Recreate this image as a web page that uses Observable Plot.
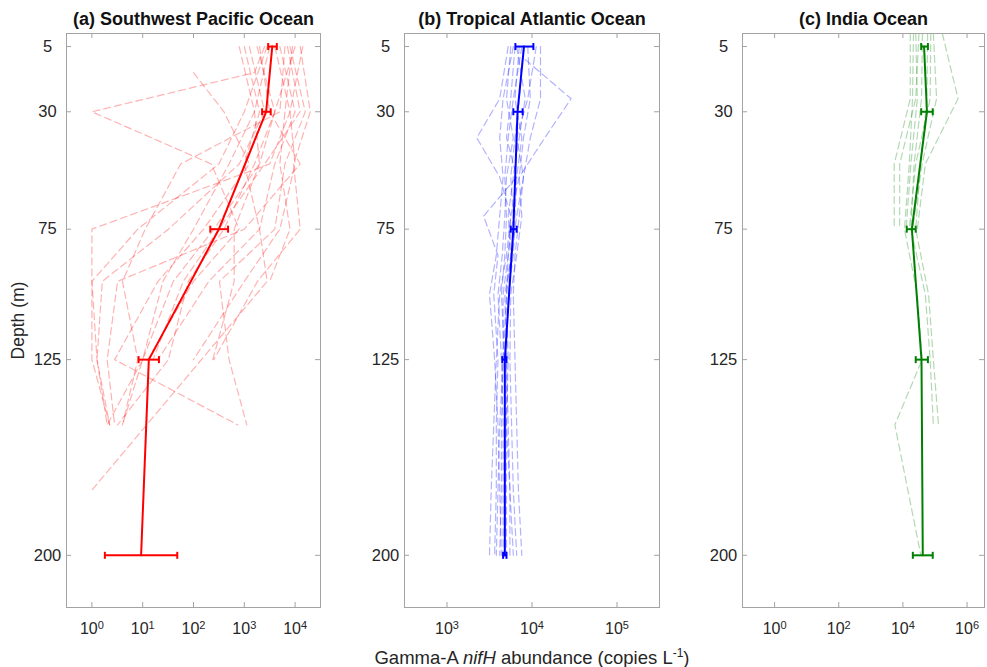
<!DOCTYPE html>
<html><head><meta charset="utf-8">
<script src="https://cdn.jsdelivr.net/npm/d3@7"></script>
<script src="https://cdn.jsdelivr.net/npm/@observablehq/plot@0.6"></script>
<style>
body{margin:0;background:#fff;font-family:"Liberation Sans",Arial,Helvetica,sans-serif;}
#wrap{position:relative;width:987px;height:667px;overflow:hidden;background:#fff;}
.panel{position:absolute;top:0;}
#xlabel{position:absolute;left:232px;width:600px;top:643px;text-align:center;font-size:18.5px;line-height:20px;color:#262626;}
#xlabel sup{font-size:12px;}
</style></head>
<body><div id="wrap"></div>
<script>
// ---------- data ----------
const depthTicks = [5, 30, 75, 125, 200];
const meanDepths = [5, 30, 75, 125, 200];

const pacificTitle = "(a) Southwest Pacific Ocean";
const atlanticTitle = "(b) Tropical Atlantic Ocean";
const indianTitle = "(c) India Ocean";

const pacificXTicks = [1, 10, 100, 1000, 10000];
const atlanticXTicks = [1000, 10000, 100000];
const indianXTicks = [1, 100, 10000, 1000000];

const pacificMean = [3550, 2690, 316, 13.2, 9.3];
const pacificLow  = [2950, 2240, 214, 8.3, 1.8];
const pacificHigh = [4370, 3310, 479, 20.9, 47.9];

const atlanticMean = [8050, 6760, 6030, 4790, 4790];
const atlanticLow  = [6380, 6030, 5620, 4470, 4570];
const atlanticHigh = [10380, 7760, 6610, 5010, 5010];

const indianMean = [45700, 56230, 19050, 38020, 41690];
const indianLow  = [37150, 37150, 13180, 25120, 20420];
const indianHigh = [60260, 85110, 25120, 60260, 85110];

// individual station profiles (null = not sampled)
const pacificProfileDepths = [5, 15, 30, 50, 75, 95, 125, 150, 175];
const pacificProfiles = [
  [2512, 1585, 1, 224, 794, 100, 12.6, null, null],
  [794, null, 1585, 1995, 251, 40, 10, 4, null],
  [3981, null, 7943, 3162, 1, 1, 1.26, 2.24, null],
  [12589, null, 19953, 9333, 12589, 1820, 251, null, null],
  [1995, null, 3162, 12589, 1000, 3.2, 2, 2.8, null],
  [6310, null, 5012, 56, 11.2, 4, 8, 4, null],
  [1000, null, 1995, 1000, 1995, 2818, null, null, 1],
  [7943, null, 15849, 6310, 3981, 324, 501, 1122, null],
  [null, 100, 398, 1259, 158, 20, 2.8, 741, null],
  [10000, null, 3981, 1995, 631, 631, 240, null, null],
  [3162, null, 1585, 501, 100, 25, 10, 2, null],
  [5012, null, 10000, 3981, 1995, 200, 20, null, null],
  [14125, null, 7943, 10000, 5012, 1000, 100, null, null],
  [1259, null, 2512, 794, 32, 1.6, 1.26, 2, null],
  [7079, null, 12589, 2512, 316, 63, 16, null, null],
  [2818, null, 1000, 316, 8, 1, 1, 2.24, null],
  [8913, null, 6310, 5012, 7943, 3162, null, null, null],
  [1778, null, 3981, 1585, 398, 79, 32, 3.2, null]
];

const atlanticProfileDepths = [5, 10, 25, 40, 55, 70, 85, 100, 125, 150, 175, 200];
const atlanticProfiles = [
  [5248, null, 4169, 2239, 4169, 5623, 5012, 4169, 3802, 3548, 3311, 3162],
  [null, 8318, 28840, 14125, 7079, 5623, 5248, 5012, 5248, 5012, 5495, 6026],
  [12589, null, 12589, 9550, 7943, 7079, 6310, 6026, 6310, 6607, 6918, 7586],
  [6310, null, 5623, 5012, 6607, 2692, 3981, 3548, 3981, 3802, 3802, 3631],
  [7943, null, 7079, 6310, 5623, 6026, 5248, 4571, 4571, 4365, 4365, 4169],
  [7079, null, 6310, 7586, 6607, 6310, 6026, 5248, 5012, 5012, 5012, 5012],
  [5623, null, 5012, 6026, 5012, 4786, 4467, 3981, 4365, 4571, 4571, 4571],
  [8913, null, 9550, 7943, 7079, 7586, 6607, 5623, 5495, 5754, 6026, 6607],
  [7586, null, 6026, 5248, 4786, 5012, 4786, 4365, 4786, 4786, 4786, 4786],
  [6607, null, 8318, 7079, 6026, 5248, 5623, 5012, 4571, 4169, 3981, 3802],
  [11220, null, 8913, 6607, 7943, 6607, 5754, 4786, 5012, 5248, 5495, 5495],
  [6026, null, 4571, 4169, 4571, 4169, 3802, 3162, 3631, 3981, 4169, 4365]
];

const indianProfileDepths = [0, 25, 50, 75, 100, 125, 150, 200];
const indianProfiles = [
  [16982, 16982, 5370, 5370, null, null, null, null],
  [21380, 19953, 15849, 11220, 28184, 39811, 5623, 36308],
  [40738, 38019, 22387, 17783, 50119, 70795, 89125, null],
  [58884, 56234, 35481, 25119, 63096, 89125, 128825, null],
  [169824, 524807, 50119, 28184, null, null, null, null],
  [74131, 70795, 25119, 15849, null, null, null, null],
  [89125, 112202, 39811, 19953, null, null, null, null],
  [25119, 28184, 17783, 12589, null, null, null, null],
  [31623, 25119, 7943, 7943, null, null, null, null]
];

// ---------- drawing ----------
const H = 667, mT = 33, mB = 60;
const frameColor = "#a3a3a3";
const textColor = "#262626";
const capSymbol = {draw(ctx, size) { const r = Math.sqrt(size / Math.PI); ctx.moveTo(0, -r); ctx.lineTo(0, r); }};

function panel(o) {
  const innerW = o.width - o.mL - o.mR, innerH = H - mT - mB;
  const prof = [];
  o.profiles.forEach((vals, i) => vals.forEach((v, j) => {
    if (v != null) prof.push({id: i, depth: o.profDepths[j], value: v});
  }));
  const means = meanDepths.map((d, i) => ({depth: d, value: o.mean[i], lo: o.lo[i], hi: o.hi[i]}));
  const marks = [
    Plot.line(prof, {x: "value", y: "depth", z: "id", stroke: o.color, strokeOpacity: 0.3, strokeWidth: 1.2, strokeDasharray: "7,4"}),
    Plot.frame({stroke: frameColor}),
    Plot.tickX(o.xticks, {x: d => d, insetTop: innerH - 5, stroke: frameColor}),
    Plot.tickX(o.xticks, {x: d => d, insetBottom: innerH - 5, stroke: frameColor}),
    Plot.tickY(depthTicks, {y: d => d, insetRight: innerW - 5, stroke: frameColor}),
    Plot.tickY(depthTicks, {y: d => d, insetLeft: innerW - 5, stroke: frameColor}),
    Plot.axisX({ticks: o.xticks, tickSize: 0, tickPadding: 15, label: null, fontSize: 16,
      tickFormat: d => String(Math.round(Math.log10(d))), fill: textColor}),
    Plot.axisY({ticks: depthTicks, tickSize: 0, tickPadding: 19, textAnchor: "middle", label: null, fontSize: 16.5, fill: textColor}),
    Plot.line(means, {x: "value", y: "depth", stroke: o.color, strokeWidth: 2}),
    Plot.link(means, {x1: "lo", x2: "hi", y1: "depth", y2: "depth", stroke: o.color, strokeWidth: 2}),
    Plot.dot(means, {x: "lo", y: "depth", symbol: capSymbol, r: 3.5, stroke: o.color, strokeWidth: 2, fill: "none"}),
    Plot.dot(means, {x: "hi", y: "depth", symbol: capSymbol, r: 3.5, stroke: o.color, strokeWidth: 2, fill: "none"}),
    Plot.text([o.title], {text: d => d, frameAnchor: "top", dy: -14, fontWeight: "bold", fontSize: 18, fill: "#111", textAnchor: "middle", lineAnchor: "middle"})
  ];
  if (o.yLabel) {
    marks.push(Plot.text([o.yLabel], {text: d => d, frameAnchor: "left", dx: -48, rotate: -90,
      textAnchor: "middle", lineAnchor: "middle", fontSize: 17.5, fill: textColor}));
  }
  const svg = Plot.plot({
    width: o.width, height: H,
    marginLeft: o.mL, marginRight: o.mR, marginTop: mT, marginBottom: mB,
    style: {fontFamily: "'Liberation Sans', Arial, Helvetica, sans-serif", fontSize: "16px", color: textColor, background: "transparent", overflow: "visible"},
    x: {type: "log", domain: o.domain},
    y: {domain: [0, 220], reverse: true},
    marks
  });
  // turn exponent labels into 10^k with a real superscript
  svg.querySelectorAll('g[aria-label="x-axis tick label"] text').forEach(t => {
    const k = t.textContent;
    t.textContent = "";
    const base = document.createElementNS("http://www.w3.org/2000/svg", "tspan");
    base.textContent = "10";
    const sup = document.createElementNS("http://www.w3.org/2000/svg", "tspan");
    sup.setAttribute("dy", "-0.45em");
    sup.setAttribute("font-size", "11");
    sup.textContent = k;
    t.appendChild(base); t.appendChild(sup);
  });
  svg.classList.add("panel");
  svg.style.left = o.left + "px";
  return svg;
}

const wrap = document.getElementById("wrap");
wrap.appendChild(panel({left: 0, width: 330, mL: 66, mR: 10, domain: [Math.pow(10, -0.5), Math.pow(10, 4.5)],
  xticks: pacificXTicks, color: "#ff0000", title: pacificTitle, yLabel: "Depth (m)",
  profDepths: pacificProfileDepths, profiles: pacificProfiles, mean: pacificMean, lo: pacificLow, hi: pacificHigh}));
wrap.appendChild(panel({left: 340, width: 330, mL: 64, mR: 11, domain: [Math.pow(10, 2.5), Math.pow(10, 5.5)],
  xticks: atlanticXTicks, color: "#0000ff", title: atlanticTitle,
  profDepths: atlanticProfileDepths, profiles: atlanticProfiles, mean: atlanticMean, lo: atlanticLow, hi: atlanticHigh}));
wrap.appendChild(panel({left: 670, width: 317, mL: 72, mR: 3, domain: [0.1, 3.5e6],
  xticks: indianXTicks, color: "#008000", title: indianTitle,
  profDepths: indianProfileDepths, profiles: indianProfiles, mean: indianMean, lo: indianLow, hi: indianHigh}));

const xl = document.createElement("div");
xl.id = "xlabel";
xl.innerHTML = "Gamma-A <i>nifH</i> abundance (copies L<sup>-1</sup>)";
wrap.appendChild(xl);
</script>
</body></html>
